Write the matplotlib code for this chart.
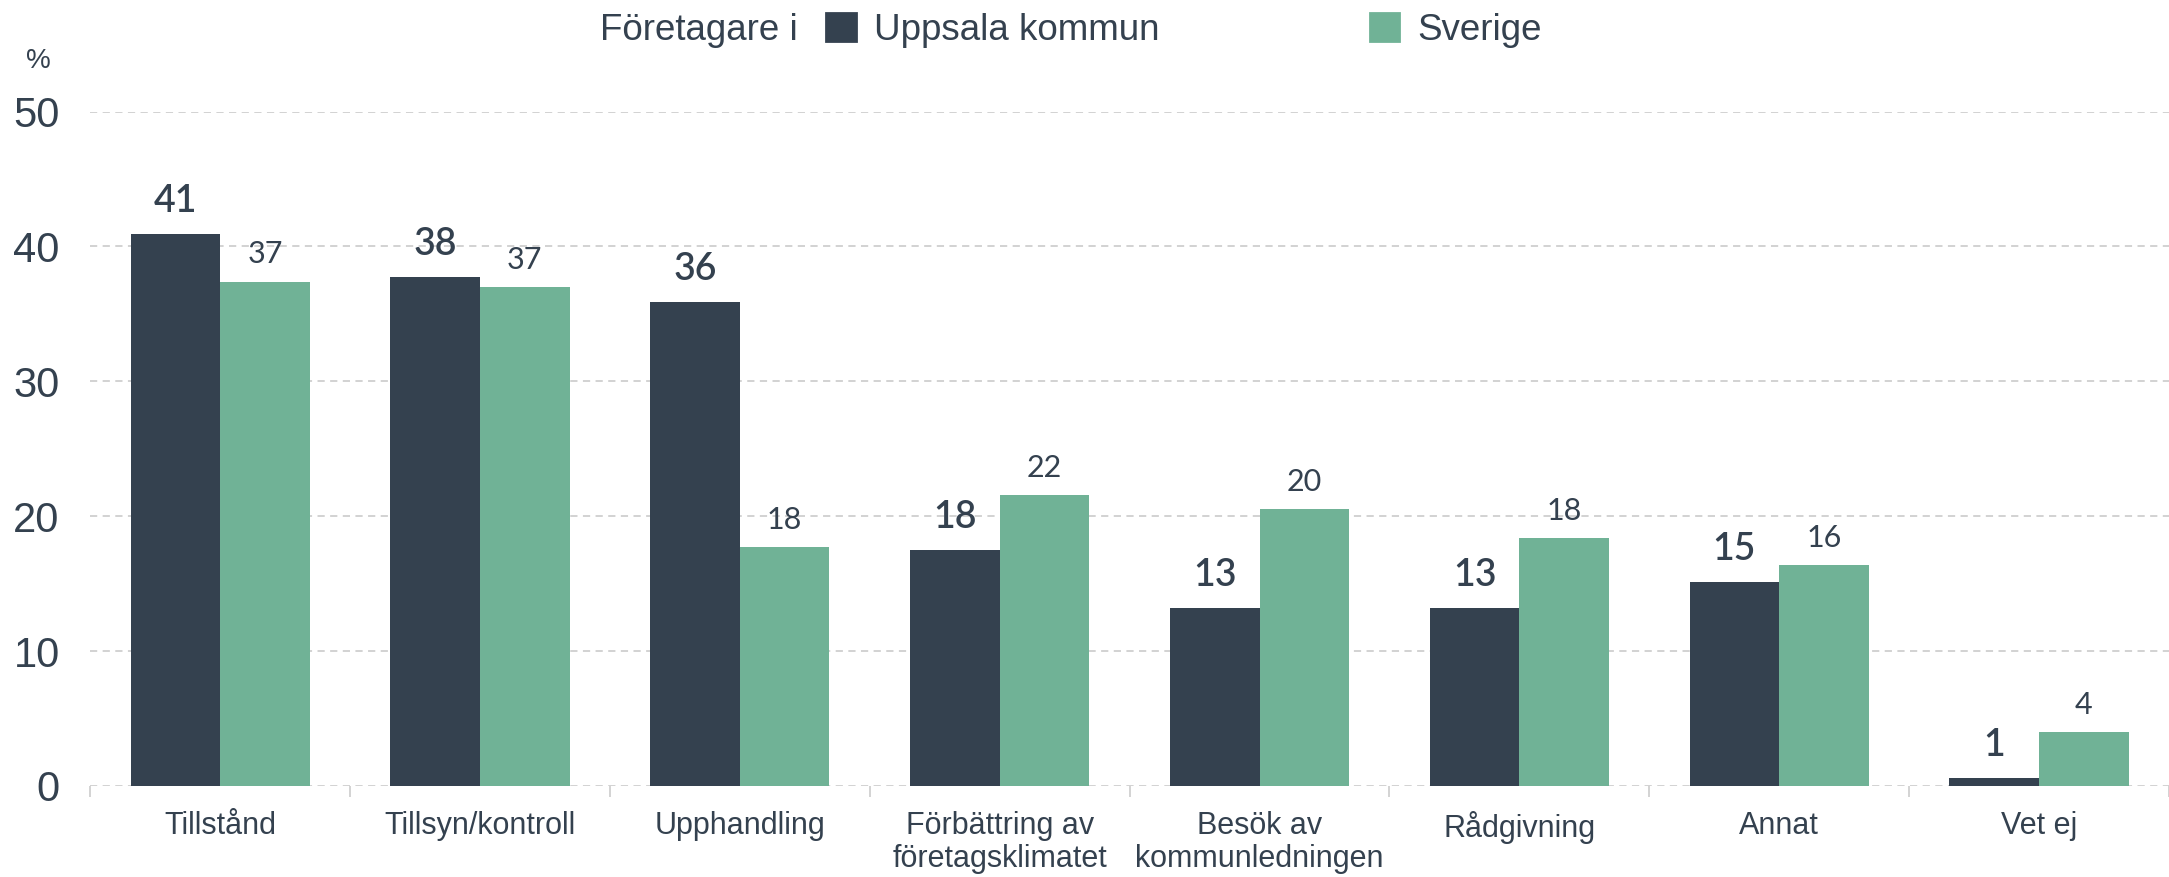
import matplotlib
matplotlib.use("Agg")
import matplotlib.pyplot as plt
import numpy as np
from matplotlib.patches import Patch
from matplotlib import font_manager as fm

categories = ["Tillstånd", "Tillsyn/kontroll", "Upphandling", "Förbättring av\nföretagsklimatet",
              "Besök av\nkommunledningen", "Rådgivning", "Annat", "Vet ej"]
uppsala = [40.9, 37.7, 35.9, 17.5, 13.2, 13.2, 15.1, 0.6]
uppsala_labels = ["41", "38", "36", "18", "13", "13", "15", "1"]
sverige = [37.4, 37.0, 17.7, 21.6, 20.5, 18.4, 16.4, 4.0]
sverige_labels = ["37", "37", "18", "22", "20", "18", "16", "4"]
yticks = [0, 10, 20, 30, 40, 50]
series_names = ["Uppsala kommun", "Sverige"]
legend_title = "Företagare i"

DARK = "#34414f"
GREEN = "#70b296"
TEXT = "#34414f"

names = {f.name for f in fm.fontManager.ttflist}
narrow = "Liberation Sans Narrow" if "Liberation Sans Narrow" in names else "Liberation Sans"
numfont = "Lato" if "Lato" in names else "DejaVu Sans"

fig = plt.figure(figsize=(21.69, 8.77), dpi=100)
ax = fig.add_axes([0.0416, 0.1038, 0.9584, 0.769])

x = np.arange(len(categories))
w = 0.345
ax.bar(x - w/2, uppsala, w, color=DARK, zorder=3)
ax.bar(x + w/2, sverige, w, color=GREEN, zorder=3)

for xi, v, lab in zip(x, uppsala, uppsala_labels):
    ax.annotate(lab, (xi - w/2, v), xytext=(0, 16), textcoords="offset points",
                ha="center", va="baseline", fontsize=27, fontweight="semibold",
                color=TEXT, family=numfont)
for xi, v, lab in zip(x, sverige, sverige_labels):
    ax.annotate(lab, (xi + w/2, v), xytext=(0, 13), textcoords="offset points",
                ha="center", va="baseline", fontsize=22, color=TEXT, family=numfont)

ax.set_ylim(0, 50)
ax.set_xlim(-0.5, 7.426)
ax.set_yticks(yticks)
ax.set_yticklabels([str(t) for t in yticks], fontsize=30, color=TEXT, family=narrow)
ax.set_xticks(x)
ax.set_xticklabels(categories, fontsize=22, color=TEXT, family=narrow, linespacing=1.15)
ax.set_xticks(np.arange(len(categories) + 1) - 0.5, minor=True)
ax.tick_params(axis="x", which="major", length=0, pad=18)
ax.tick_params(axis="x", which="minor", length=8, color="#cccccc", width=1.2)
ax.tick_params(axis="y", length=0, pad=22)
ax.grid(axis="y", linestyle=(0, (4, 3)), color="#cfcfcf", linewidth=1.3, zorder=0)
for s in ax.spines.values():
    s.set_visible(False)

fig.text(0.012, 0.931, "%", fontsize=20, color=TEXT, family=narrow, ha="left", va="center")

fig.text(0.368, 0.965, legend_title, fontsize=26.5, color=TEXT, family=narrow, ha="right", va="center")
handles = [Patch(facecolor=DARK, edgecolor=DARK, joinstyle="round", linewidth=2),
           Patch(facecolor=GREEN, edgecolor=GREEN, joinstyle="round", linewidth=2)]
fig.legend(handles, series_names, loc="center left", bbox_to_anchor=(0.381, 0.965), ncol=2,
           frameon=False, prop={"family": narrow, "size": 26.5}, labelcolor=TEXT,
           handlelength=0.8, handleheight=0.8, handletextpad=0.5, columnspacing=5.7,
           borderaxespad=0, borderpad=0)

fig.savefig("out.png", dpi=100)
